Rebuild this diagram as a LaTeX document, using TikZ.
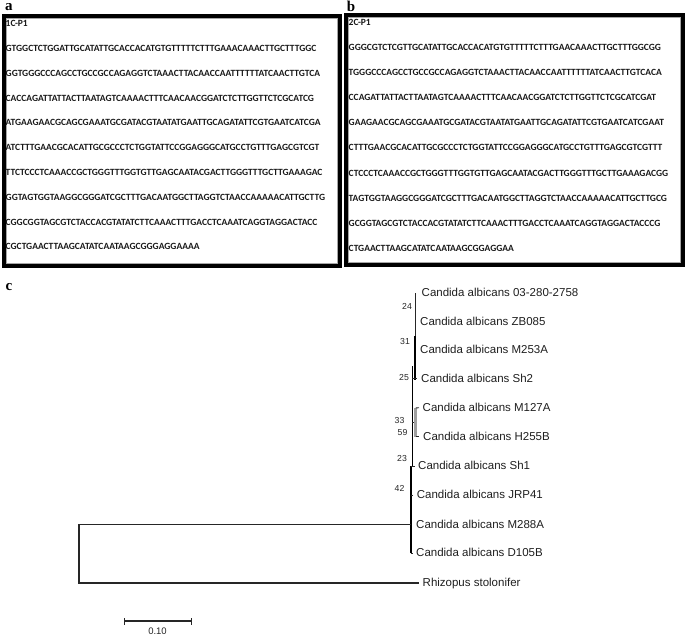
\documentclass[tikz,border=0pt]{standalone}
\usepackage{fontspec}
\setmainfont{Liberation Sans}
\newfontfamily\seqfont{Carlito}
\newfontfamily\panelfont{Liberation Serif}
\begin{document}
\begin{tikzpicture}[x=1pt,y=-1pt,
  seqtxt/.style={anchor=west,inner sep=0pt,font=\seqfont\bfseries\fontsize{9.5}{10}\selectfont,text=black!90},
  panellbl/.style={inner sep=0pt,font=\panelfont\bfseries\fontsize{15}{16}\selectfont},
  tiplbl/.style={anchor=west,inner sep=0pt,text height=0.716em,text depth=0pt,font=\fontsize{11.5}{12}\selectfont,text=black!88},
  bootlbl/.style={inner sep=0pt,font=\fontsize{8.7}{9}\selectfont,text=black!85},
  br/.style={draw=black!85,line width=0.9pt},
  brk/.style={draw=black,line width=1.8pt},
  frame/.style={draw=black,line width=4pt}]
\useasboundingbox (0,0) rectangle (685,637);

% panel labels
\node[panellbl] (la) at (8.8,7.5) {a};
\node[panellbl] (lb) at (351,6.7) {b};
\node[panellbl] (lc) at (9,287) {c};

% frames
\draw[frame] (3.5,16) rectangle (339.5,266);
\draw[frame] (346,15) rectangle (682.8,265);
\draw[draw=gray!70,line width=0.6pt] (6,18.5) rectangle (337,263.5);
\draw[draw=gray!70,line width=0.6pt] (348.5,17.5) rectangle (680.3,262.5);

% panel a text
\node[seqtxt] (a0) at (5.5,23.5) {1C-P1};
\node[seqtxt] (a1) at (5.5,48.5) {GTGGCTCTGGATTGCATATTGCACCACATGTGTTTTTCTTTGAAACAAACTTGCTTTGGC};
\node[seqtxt] (a2) at (5.5,73.3) {GGTGGGCCCAGCCTGCCGCCAGAGGTCTAAACTTACAACCAATTTTTTATCAACTTGTCA};
\node[seqtxt] (a3) at (5.5,98.1) {CACCAGATTATTACTTAATAGTCAAAACTTTCAACAACGGATCTCTTGGTTCTCGCATCG};
\node[seqtxt] (a4) at (5.5,122.9) {ATGAAGAACGCAGCGAAATGCGATACGTAATATGAATTGCAGATATTCGTGAATCATCGA};
\node[seqtxt] (a5) at (5.5,147.7) {ATCTTTGAACGCACATTGCGCCCTCTGGTATTCCGGAGGGCATGCCTGTTTGAGCGTCGT};
\node[seqtxt] (a6) at (5.5,172.5) {TTCTCCCTCAAACCGCTGGGTTTGGTGTTGAGCAATACGACTTGGGTTTGCTTGAAAGAC};
\node[seqtxt] (a7) at (5.5,197.3) {GGTAGTGGTAAGGCGGGATCGCTTTGACAATGGCTTAGGTCTAACCAAAAACATTGCTTG};
\node[seqtxt] (a8) at (5.5,222.1) {CGGCGGTAGCGTCTACCACGTATATCTTCAAACTTTGACCTCAAATCAGGTAGGACTACC};
\node[seqtxt] (a9) at (5.5,246.9) {CGCTGAACTTAAGCATATCAATAAGCGGGAGGAAAA};

% panel b text
\node[seqtxt] (b0) at (348.5,22) {2C-P1};
\node[seqtxt] (b1) at (348.5,47) {GGGCGTCTCGTTGCATATTGCACCACATGTGTTTTTCTTTGAACAAACTTGCTTTGGCGG};
\node[seqtxt] (b2) at (348.5,72.2) {TGGGCCCAGCCTGCCGCCAGAGGTCTAAACTTACAACCAATTTTTTATCAACTTGTCACA};
\node[seqtxt] (b3) at (348.5,97.4) {CCAGATTATTACTTAATAGTCAAAACTTTCAACAACGGATCTCTTGGTTCTCGCATCGAT};
\node[seqtxt] (b4) at (348.5,122.6) {GAAGAACGCAGCGAAATGCGATACGTAATATGAATTGCAGATATTCGTGAATCATCGAAT};
\node[seqtxt] (b5) at (348.5,147.8) {CTTTGAACGCACATTGCGCCCTCTGGTATTCCGGAGGGCATGCCTGTTTGAGCGTCGTTT};
\node[seqtxt] (b6) at (348.5,173) {CTCCCTCAAACCGCTGGGTTTGGTGTTGAGCAATACGACTTGGGTTTGCTTGAAAGACGG};
\node[seqtxt] (b7) at (348.5,198.2) {TAGTGGTAAGGCGGGATCGCTTTGACAATGGCTTAGGTCTAACCAAAAACATTGCTTGCG};
\node[seqtxt] (b8) at (348.5,223.4) {GCGGTAGCGTCTACCACGTATATCTTCAAACTTTGACCTCAAATCAGGTAGGACTACCCG};
\node[seqtxt] (b9) at (348.5,248.6) {CTGAACTTAAGCATATCAATAAGCGGAGGAA};

% tree: tip labels
\node[tiplbl] (L1) at (421.5,293) {Candida albicans 03-280-2758};
\node[tiplbl] (L2) at (420,321.7) {Candida albicans ZB085};
\node[tiplbl] (L3) at (420,350) {Candida albicans M253A};
\node[tiplbl] (L4) at (421,378.5) {Candida albicans Sh2};
\node[tiplbl] (L5) at (422.5,407.7) {Candida albicans M127A};
\node[tiplbl] (L6) at (423,436.5) {Candida albicans H255B};
\node[tiplbl] (L7) at (418,466) {Candida albicans Sh1};
\node[tiplbl] (L8) at (416.7,495) {Candida albicans JRP41};
\node[tiplbl] (L9) at (416,524.5) {Candida albicans M288A};
\node[tiplbl] (L10) at (416,553) {Candida albicans D105B};
\node[tiplbl] (L11) at (422.5,583) {Rhizopus stolonifer};

% bootstrap values
\node[bootlbl] (B24) at (407,306) {24};
\node[bootlbl] (B31) at (405,342) {31};
\node[bootlbl] (B25) at (404,378) {25};
\node[bootlbl] (B33) at (399.5,420) {33};
\node[bootlbl] (B59) at (402.5,432) {59};
\node[bootlbl] (B23) at (402,458) {23};
\node[bootlbl] (B42) at (399.5,488) {42};

% tree: coordinates
\coordinate (p1) at (415.7,293);
\coordinate (p3) at (415.7,350);
\coordinate (q1) at (414.6,336);
\coordinate (q2) at (414.6,380);
\coordinate (r1) at (412.4,366);
\coordinate (r2) at (412.4,467);
\coordinate (s4a) at (412.4,378.5);
\coordinate (s4b) at (417,378.5);
\coordinate (g1) at (415.6,408);
\coordinate (g2) at (415.6,436.5);
\coordinate (g5) at (419,407.7);
\coordinate (g6) at (419,436.5);
\coordinate (gm) at (412.4,422);
\coordinate (gmr) at (414.4,422);
\coordinate (u1) at (410.7,466);
\coordinate (u2) at (410.7,553);
\coordinate (t7) at (414.5,466);
\coordinate (u8) at (410.7,495);
\coordinate (t8) at (413.2,495);
\coordinate (u10) at (412.5,553);
\coordinate (croot) at (410.7,524.5);
\coordinate (root) at (79,524.5);
\coordinate (rroot) at (79,583);
\coordinate (trh) at (419,583);

\draw[br] (p1) -- (p3);
\draw[brk] (q1) -- (q2);
\draw[brk] (r1) -- (r2);
\draw[br] (s4a) -- (s4b);
\draw[draw=gray!75,line width=2.4pt] (g1) -- (g2);
\draw[br] (gm) -- (gmr);
\draw[br] (g1) -- (g5);
\draw[br] (g2) -- (g6);
\draw[brk] (u1) -- (u2);
\draw[br] (u1) -- (t7);
\draw[br] (u8) -- (t8);
\draw[br] (u2) -- (u10);
\draw[draw=black!85,line width=1.1pt] (croot) -- (root) -- (rroot) -- (trh);

% scale bar
\coordinate (s1) at (124,621);
\coordinate (s2) at (191,621);
\draw[draw=black!85,line width=1.3pt] (s1) -- (s2);
\draw[draw=black!85,line width=1pt] ([yshift=-3.5pt]s1) -- ([yshift=3.5pt]s1);
\draw[draw=black!85,line width=1pt] ([yshift=-3.5pt]s2) -- ([yshift=3.5pt]s2);
\node[bootlbl,font=\fontsize{9.5}{10}\selectfont] (sl) at (157.5,631) {0.10};
\end{tikzpicture}
\end{document}
